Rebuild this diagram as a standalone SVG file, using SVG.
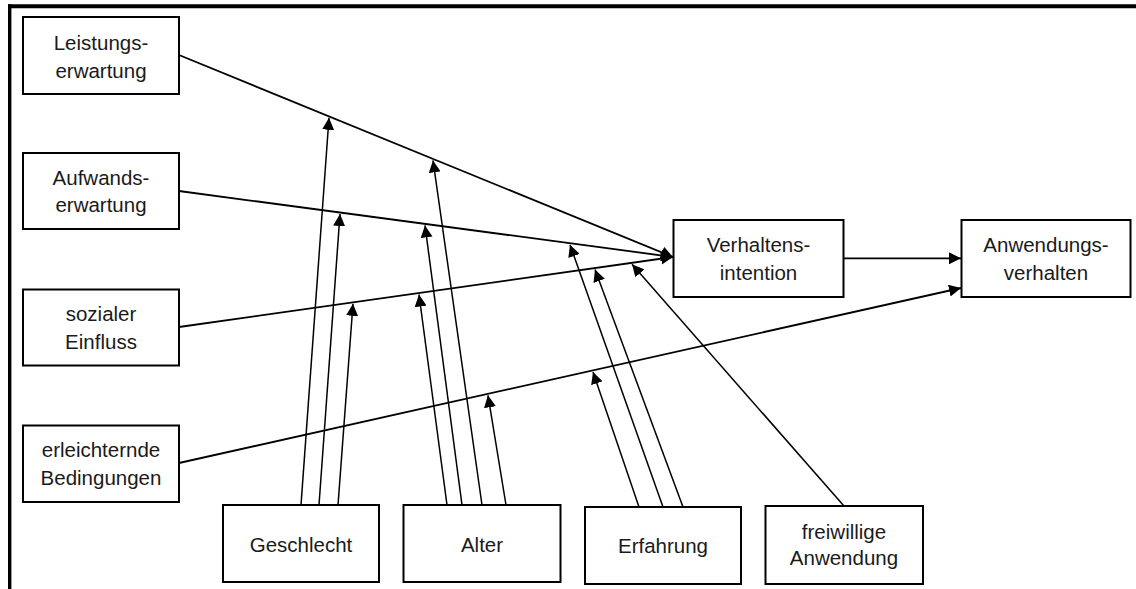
<svg xmlns="http://www.w3.org/2000/svg" width="1136" height="589" viewBox="0 0 1136 589">
  <style>
    .box { fill: #ffffff; stroke: #000000; stroke-width: 2; }
    .lbl { font-family: "Liberation Sans", Arial, sans-serif; font-size: 20.5px; fill: #1a1a1a; text-anchor: middle; }
    .main { stroke: #000000; stroke-width: 1.8; fill: none; marker-end: url(#head); }
    .mod { stroke: #000000; stroke-width: 1.5; fill: none; marker-end: url(#head); }
    .frame { stroke: #000000; fill: none; }
  </style>
  <defs>
    <marker id="head" markerUnits="userSpaceOnUse" markerWidth="12" markerHeight="12" refX="12" refY="6" orient="auto">
      <path d="M0,0 L12,6 L0,12 z" fill="#000000"/>
    </marker>
  </defs>

  <rect width="1136" height="589" fill="#ffffff"/>

  <!-- outer frame: top and left edges only -->
  <g id="frame">
    <line class="frame" x1="8" y1="6.2" x2="1136" y2="6.2" stroke-width="4"/>
    <line class="frame" x1="9.7" y1="4.2" x2="9.7" y2="589" stroke-width="3.4"/>
  </g>

  <!-- connectors -->
  <g id="connectors">
    <!-- predictors to intention / behaviour -->
    <line class="main" x1="179" y1="55" x2="673" y2="257"/>
    <line class="main" x1="179" y1="191" x2="673" y2="257"/>
    <line class="main" x1="179" y1="327" x2="673" y2="257"/>
    <line class="main" x1="179" y1="463" x2="961" y2="288"/>
    <line class="main" x1="843" y1="258.3" x2="961" y2="258.3"/>

    <!-- Geschlecht -->
    <line class="mod" x1="301" y1="505" x2="329" y2="117.8"/>
    <line class="mod" x1="319" y1="505" x2="340" y2="214"/>
    <line class="mod" x1="338" y1="505" x2="353" y2="303.8"/>

    <!-- Alter -->
    <line class="mod" x1="447" y1="505" x2="419" y2="294.5"/>
    <line class="mod" x1="462" y1="505" x2="425" y2="225.4"/>
    <line class="mod" x1="482" y1="505" x2="433" y2="160.4"/>
    <line class="mod" x1="506" y1="505" x2="488" y2="395.3"/>

    <!-- Erfahrung -->
    <line class="mod" x1="639" y1="507" x2="593" y2="371.9"/>
    <line class="mod" x1="663" y1="507" x2="570" y2="244.7"/>
    <line class="mod" x1="683" y1="507" x2="595" y2="269.6"/>

    <!-- freiwillige Anwendung -->
    <line class="mod" x1="844" y1="506" x2="632" y2="264.3"/>
  </g>

  <!-- nodes -->
  <g id="leistungserwartung">
    <rect class="box" x="23" y="17" width="156" height="77"/>
    <text class="lbl" x="101" y="50">Leistungs-</text>
    <text class="lbl" x="101" y="77.5">erwartung</text>
  </g>
  <g id="aufwandserwartung">
    <rect class="box" x="23" y="153" width="156" height="76"/>
    <text class="lbl" x="101" y="184.5">Aufwands-</text>
    <text class="lbl" x="101" y="212">erwartung</text>
  </g>
  <g id="sozialer-einfluss">
    <rect class="box" x="23" y="289.5" width="156" height="76"/>
    <text class="lbl" x="101" y="321">sozialer</text>
    <text class="lbl" x="101" y="348.5">Einfluss</text>
  </g>
  <g id="erleichternde-bedingungen">
    <rect class="box" x="23" y="425.5" width="156" height="76.5"/>
    <text class="lbl" x="101" y="457">erleichternde</text>
    <text class="lbl" x="101" y="484.5">Bedingungen</text>
  </g>
  <g id="verhaltensintention">
    <rect class="box" x="673.5" y="220" width="170" height="77"/>
    <text class="lbl" x="758.5" y="251.7">Verhaltens-</text>
    <text class="lbl" x="758.5" y="279.5">intention</text>
  </g>
  <g id="anwendungsverhalten">
    <rect class="box" x="961.5" y="220" width="169" height="77"/>
    <text class="lbl" x="1046" y="251.7">Anwendungs-</text>
    <text class="lbl" x="1046" y="279.5">verhalten</text>
  </g>
  <g id="geschlecht">
    <rect class="box" x="223" y="505" width="156" height="77"/>
    <text class="lbl" x="301" y="551.5">Geschlecht</text>
  </g>
  <g id="alter">
    <rect class="box" x="403.5" y="505" width="157" height="77"/>
    <text class="lbl" x="482" y="551.5">Alter</text>
  </g>
  <g id="erfahrung">
    <rect class="box" x="585" y="507" width="156" height="77"/>
    <text class="lbl" x="663" y="553">Erfahrung</text>
  </g>
  <g id="freiwillige-anwendung">
    <rect class="box" x="765.5" y="506" width="157.5" height="78"/>
    <text class="lbl" x="844" y="538.5">freiwillige</text>
    <text class="lbl" x="844" y="565">Anwendung</text>
  </g>
</svg>
